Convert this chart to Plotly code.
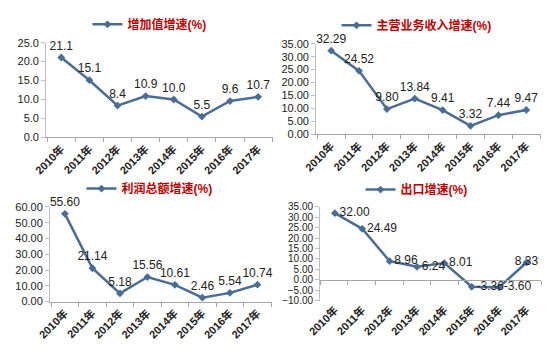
import plotly.graph_objects as go

years = ["2010年", "2011年", "2012年", "2013年", "2014年", "2015年", "2016年", "2017年"]

added_value = [21.1, 15.1, 8.4, 10.9, 10.0, 5.5, 9.6, 10.7]
revenue = [32.29, 24.52, 9.80, 13.84, 9.41, 3.32, 7.44, 9.47]
profit = [55.60, 21.14, 5.18, 15.56, 10.61, 2.46, 5.54, 10.74]
export = [32.00, 24.49, 8.96, 6.24, 8.01, -3.36, -3.60, 8.33]

names = ["增加值增速(%)", "主营业务收入增速(%)", "利润总额增速(%)", "出口增速(%)"]

W, H = 553, 353
LINE = "#4a6d96"
RED = "#c00000"
FONT = "Liberation Sans, Arial, Noto Sans CJK SC"

def px_x(a, b):
    return [a / W, b / W]

def px_y(bottom, top):
    return [1 - bottom / H, 1 - top / H]

export_pos = ["middle right"] * 7 + ["middle center"]

panels = [
    dict(data=added_value, name=names[0], x=px_x(33, 266), y=px_y(136, 38), rng=[0, 25], dt=5, fmt=".1f",
         tpl="%{y:.1f}", pos="top center", leg=(139, 19), tfs=11),
    dict(data=revenue, name=names[1], x=px_x(310, 541), y=px_y(133, 39), rng=[0, 35], dt=5, fmt=".2f",
         tpl="%{y:.2f}", pos="top center", leg=(413, 20), tfs=11),
    dict(data=profit, name=names[2], x=px_x(37, 265), y=px_y(306, 208), rng=[0, 60], dt=10, fmt=".2f",
         tpl="%{y:.2f}", pos="top center", leg=(139, 189), tfs=11),
    dict(data=export, name=names[3], x=px_x(314, 541), y=px_y(305, 208), rng=[-10, 35], dt=5, fmt=".2f",
         tpl="%{y:.2f}", pos=export_pos, leg=(413, 190), tfs=10),
]

fig = go.Figure()
layout = dict(
    width=W, height=H, margin=dict(l=0, r=0, t=0, b=0),
    paper_bgcolor="white", plot_bgcolor="white",
    font=dict(family=FONT, size=11, color="#222"),
)

for i, p in enumerate(panels, start=1):
    sfx = "" if i == 1 else str(i)
    legname = "legend" if i == 1 else f"legend{i}"
    fig.add_trace(go.Scatter(
        x=years, y=p["data"], name=p["name"],
        mode="lines+markers+text",
        line=dict(color=LINE, width=2.5),
        marker=dict(symbol="diamond", size=6, color=LINE),
        texttemplate=p["tpl"], textposition=p["pos"],
        textfont=dict(size=12, color="#222"),
        cliponaxis=False,
        xaxis=f"x{sfx}", yaxis=f"y{sfx}",
        legend=legname, showlegend=True,
    ))
    is_export = (i == 4)
    layout[f"xaxis{sfx}"] = dict(
        domain=p["x"], anchor=f"y{sfx}", type="category",
        showline=not is_export, linecolor="#a6a6a6", linewidth=1,
        ticks="" if is_export else "outside", tickson="boundaries",
        ticklen=4, tickcolor="#a6a6a6",
        tickangle=-45, tickfont=dict(size=11, color="#222", weight="bold"),
        showgrid=False, zeroline=False,
    )
    layout[f"yaxis{sfx}"] = dict(
        domain=p["y"], anchor=f"x{sfx}", range=p["rng"], dtick=p["dt"],
        tickformat=p["fmt"], showline=True, linecolor="#bfbfbf", linewidth=1,
        ticks="outside", ticklen=4, tickcolor="#bfbfbf",
        tickfont=dict(size=p["tfs"], color="#222"),
        showgrid=False, zeroline=False,
    )
    lx, ly = p["leg"]
    layout[legname] = dict(
        x=lx / W, y=1 - ly / H, xanchor="center", yanchor="middle",
        bgcolor="rgba(0,0,0,0)",
        font=dict(size=12, color=RED, family=FONT, weight="bold"),
        itemwidth=30,
    )

# category axis crossing at zero for the export panel
p4 = panels[3]
y0, y1 = p4["y"]
lo, hi = p4["rng"]
zero_pos = y0 + (0 - lo) / (hi - lo) * (y1 - y0)
layout["xaxis5"] = dict(
    domain=p4["x"], overlaying="x4", anchor="free", position=zero_pos,
    type="category", categoryarray=years, categoryorder="array",
    range=[-0.5, len(years) - 0.5],
    showline=True, linecolor="#a6a6a6", linewidth=1,
    ticks="outside", tickson="boundaries", ticklen=4, tickcolor="#a6a6a6",
    showticklabels=False, showgrid=False, zeroline=False,
)
fig.add_trace(go.Scatter(x=years, y=[None] * len(years), xaxis="x5", yaxis="y4",
                         showlegend=False, hoverinfo="skip", mode="lines"))

fig.update_layout(**layout)
fig.write_html("out.html")
